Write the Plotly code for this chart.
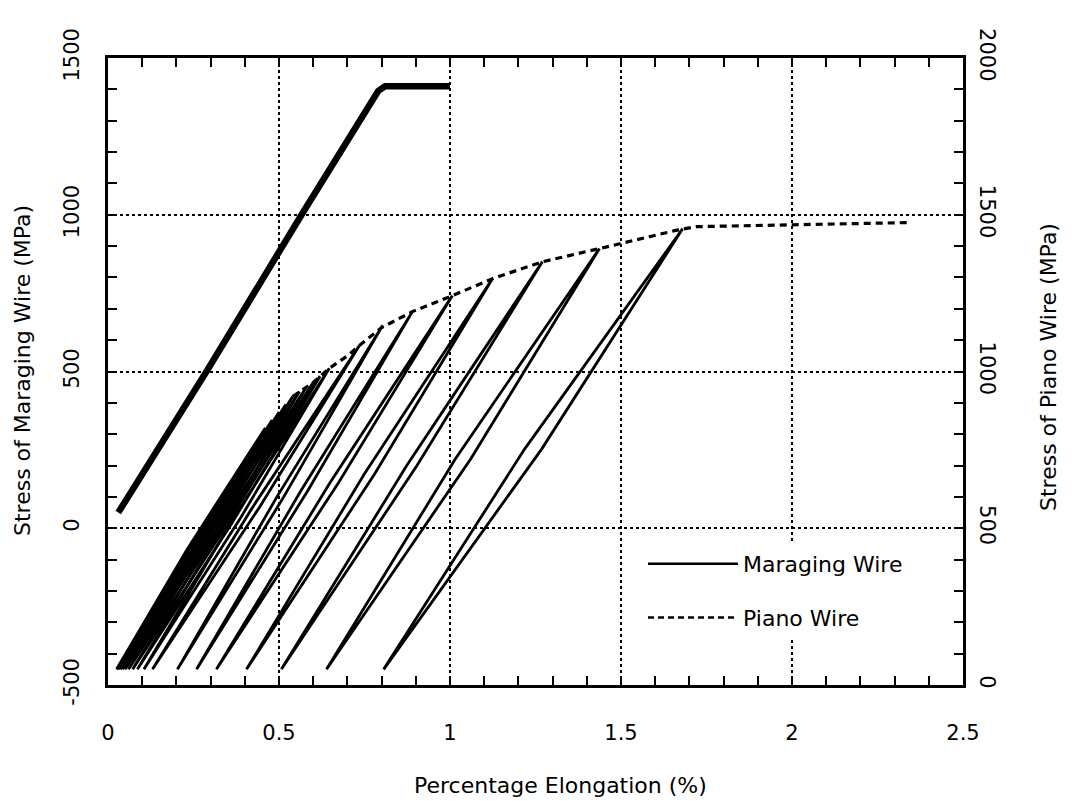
import plotly.graph_objects as go

# ---------------- data ----------------
# Maraging wire (left axis, MPa) - elastic band of overlapping cycles
mar_x = [0.03, 0.288, 0.566, 0.79, 0.81, 1.0]
mar_y = [50, 500, 1000, 1395, 1410, 1410]

# Piano wire (right axis, MPa) - monotonic envelope (dashed)
env_x = [0.54, 0.60, 0.647, 0.70, 0.735, 0.80, 0.89, 1.007, 1.124, 1.27, 1.437, 1.55, 1.66, 1.72, 2.0, 2.34]
env_y = [920, 965, 1010, 1050, 1083, 1140, 1191, 1242, 1296, 1350, 1392, 1422, 1450, 1462, 1468, 1475]

# Piano wire unloading / reloading cycles: peak point, valley strain, loop width
cyc_peak_x = [0.46, 0.48, 0.50, 0.52, 0.54, 0.56, 0.58, 0.60, 0.62, 0.647,
              0.735, 0.803, 0.89, 1.007, 1.124, 1.27, 1.437, 1.68]
cyc_peak_y = [820, 845, 870, 895, 920, 936, 950, 965, 985, 1010,
              1083, 1147, 1191, 1242, 1296, 1350, 1392, 1455]
cyc_valley_x = [0.025, 0.028, 0.032, 0.037, 0.043, 0.05, 0.06, 0.072, 0.086, 0.105,
                0.13, 0.203, 0.259, 0.317, 0.405, 0.507, 0.639, 0.806]
cyc_valley_y = [50, 50, 50, 50, 50, 50, 50, 50, 50, 50,
                50, 50, 50, 50, 50, 50, 50, 50]
cyc_loop_w = [0.02, 0.02, 0.02, 0.02, 0.02, 0.02, 0.02, 0.02, 0.02, 0.02,
              0.02, 0.02, 0.02, 0.025, 0.03, 0.03, 0.045, 0.05]

# axis ticks
x_tickvals = [0, 0.5, 1, 1.5, 2, 2.5]
x_ticktext = ["0", "0.5", "1", "1.5", "2", "2.5"]
yl_tickvals = [-500, 0, 500, 1000, 1500]
yl_ticktext = ["-500", "0", "500", "1000", "1500"]
yr_tickvals = [0, 500, 1000, 1500, 2000]
yr_ticktext = ["0", "500", "1000", "1500", "2000"]

names = ["Maraging Wire", "Piano Wire"]

# ---------------- figure ----------------
FONT = "DejaVu Sans, Liberation Sans, Arial, sans-serif"
fig = go.Figure()

# piano cycles, one path (peak -> unloading -> valley -> reloading -> peak)
cx, cy = [], []
for px_, py_, vx, vy, w in zip(cyc_peak_x, cyc_peak_y, cyc_valley_x, cyc_valley_y, cyc_loop_w):
    mx = (px_ + vx) / 2
    my = (py_ + vy) / 2
    cx += [px_, mx + w / 2, vx, mx - w / 2, px_, None]
    cy += [py_, my, vy, my, py_, None]

fig.add_trace(go.Scatter(x=cx, y=cy, yaxis="y2", mode="lines",
                         line=dict(color="black", width=2.8),
                         showlegend=False, hoverinfo="skip"))
fig.add_trace(go.Scatter(x=env_x, y=env_y, yaxis="y2", mode="lines",
                         line=dict(color="black", width=3.2, dash="7px,5px"),
                         showlegend=False))
fig.add_trace(go.Scatter(x=mar_x, y=mar_y, yaxis="y", mode="lines",
                         line=dict(color="black", width=6.5),
                         showlegend=False))

# legend entries
fig.add_trace(go.Scatter(x=[None], y=[None], mode="lines", name=names[0],
                         legendgroup="a", line=dict(color="black", width=2.5)))
fig.add_trace(go.Scatter(x=[None], y=[None], mode="lines", name=names[1],
                         legendgroup="b", line=dict(color="black", width=2.5, dash="6px,4px")))

L, R, T, B = 108, 115, 58, 116
W, H = 1078, 801

def paper_x(px):
    return (px - L) / (W - L - R)

def paper_y(py):
    return (H - B - py) / (H - T - B)

axis_common = dict(showline=True, linecolor="black", linewidth=2.5,
                   ticks="inside", ticklen=9, tickwidth=2, tickcolor="black",
                   tickfont=dict(family=FONT, size=21, color="black"))

fig.update_layout(
    width=W, height=H,
    margin=dict(l=L, r=R, t=T, b=B),
    paper_bgcolor="white", plot_bgcolor="white",
    font=dict(family=FONT, color="black"),
    xaxis=dict(range=[0, 2.5], tickvals=x_tickvals, ticktext=x_ticktext,
               mirror="allticks", showgrid=True, gridcolor="black", gridwidth=2,
               griddash="dot", zeroline=False, ticklabelstandoff=27,
               minor=dict(dtick=0.1, ticks="inside", ticklen=9, tickwidth=2,
                          tickcolor="black", showgrid=False),
               **axis_common),
    yaxis=dict(range=[-500, 1500], tickvals=yl_tickvals, ticktext=yl_ticktext,
               tickangle=-90, showgrid=True, gridcolor="black", gridwidth=2,
               griddash="dot", zeroline=False, ticklabelstandoff=18,
               minor=dict(dtick=100, ticks="inside", ticklen=9, tickwidth=2,
                          tickcolor="black", showgrid=False),
               **axis_common),
    yaxis2=dict(range=[0, 2000], tickvals=yr_tickvals, ticktext=yr_ticktext,
                overlaying="y", side="right", tickangle=90, showgrid=False,
                zeroline=False, ticklabelstandoff=6,
                minor=dict(dtick=100, ticks="inside", ticklen=9, tickwidth=2,
                           tickcolor="black", showgrid=False),
                **axis_common),
    legend=dict(x=paper_x(643), y=paper_y(543), xanchor="left", yanchor="top",
                bgcolor="white", borderwidth=0, itemwidth=90,
                traceorder="grouped", tracegroupgap=22,
                font=dict(family=FONT, size=22, color="black")),
    annotations=[
        dict(text="Percentage Elongation (%)", xref="paper", yref="paper",
             x=paper_x(560), y=paper_y(785), xanchor="center", yanchor="middle",
             showarrow=False, font=dict(family=FONT, size=22, color="black")),
        dict(text="Stress of Maraging Wire (MPa)", xref="paper", yref="paper",
             x=paper_x(22), y=paper_y(371), xanchor="center", yanchor="middle",
             textangle=-90, showarrow=False,
             font=dict(family=FONT, size=22, color="black")),
        dict(text="Stress of Piano Wire (MPa)", xref="paper", yref="paper",
             x=paper_x(1048), y=paper_y(367), xanchor="center", yanchor="middle",
             textangle=-90, showarrow=False,
             font=dict(family=FONT, size=22, color="black")),
    ],
)

fig.write_html("out.html", config={"displayModeBar": False},
               post_script="document.body.style.margin='0';")
